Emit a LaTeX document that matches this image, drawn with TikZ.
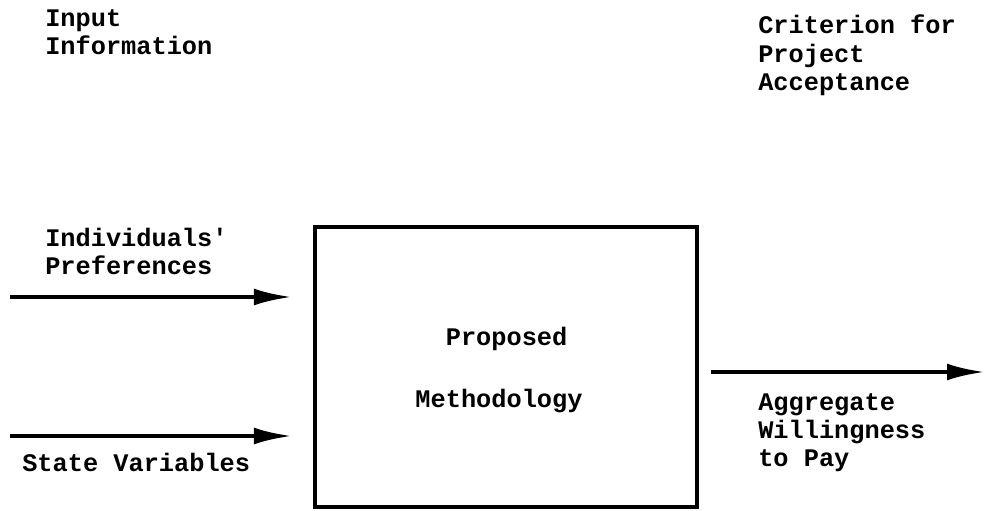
\documentclass[tikz,border=0pt]{standalone}
\usepackage{fontspec}
\setmonofont{Liberation Mono}
\usetikzlibrary{arrows.meta}

\begin{document}
\begin{tikzpicture}[x=0.025cm, y=-0.025cm,
    every node/.style={inner sep=0pt, font=\ttfamily\bfseries\fontsize{18}{20}\selectfont},
    label/.style={anchor=north west, align=left},
    feed/.style={line width=3pt, -{Latex[length=0.95cm, width=0.42cm]}}]
  % Fix the page to the size of the reference
  \useasboundingbox (0,0) rectangle (984,511);

  % The methodology box and its text
  \node[draw, line width=2.6pt, minimum width=9.55cm, minimum height=7cm] (method) at (506,367) {};
  \node[align=left] (methodtext) at ([xshift=-0.175cm, yshift=-0.075cm]method.center)
    {~~Proposed\\[24pt]Methodology};

  % Headings of the two sides
  \node[label] (input) at (45,9) {Input\\Information};
  \node[label] (criterion) at (758,15) {Criterion for\\Project\\Acceptance};

  % Inputs on the left
  \node[label] (prefs) at (45,228) {Individuals'\\Preferences};
  \node[label] (state) at (22,453) {State Variables};
  \coordinate (prefsfrom) at (10,297);
  \coordinate (prefsto) at (292,297);
  \coordinate (statefrom) at (10,436);
  \coordinate (stateto) at (292,436);
  \draw[feed] (prefsfrom) -- (prefsto);
  \draw[feed] (statefrom) -- (stateto);

  % Output on the right
  \node[label] (wtp) at (758,393) {Aggregate\\Willingness\\to Pay};
  \coordinate (wtpfrom) at (711,372);
  \coordinate (wtpto) at (985,372);
  \draw[feed] (wtpfrom) -- (wtpto);
\end{tikzpicture}
\end{document}
